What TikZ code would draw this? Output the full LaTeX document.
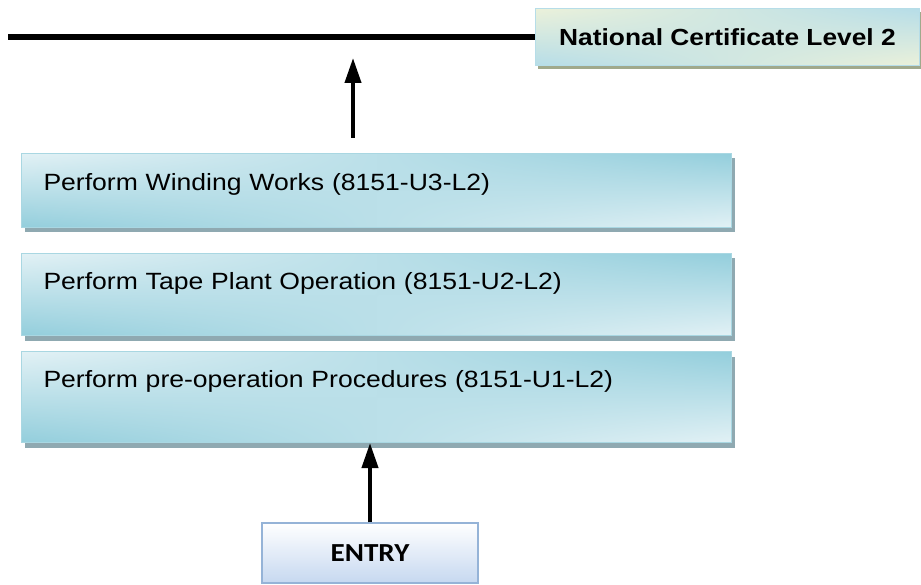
\documentclass[tikz,border=0pt]{standalone}
\usepackage{fontspec}
\setmainfont[FakeStretch=1.13]{Liberation Sans}
\newfontfamily\entryfont[FakeStretch=1.12]{Carlito}
\usepackage{tikz}
\usetikzlibrary{arrows.meta,shadows,shadings}

\definecolor{unitlight}{HTML}{E2F1F5}
\definecolor{unitdark}{HTML}{93CEDC}
\definecolor{unitborder}{HTML}{A9D7E2}
\definecolor{unitshadow}{HTML}{8FA9B1}
\definecolor{certcream}{HTML}{EBF1DA}
\definecolor{certblue}{HTML}{B6DDE8}
\definecolor{certshadow}{HTML}{A0A98C}
\definecolor{entryfill}{HTML}{C6D8F0}
\definecolor{entryborder}{HTML}{95B3D7}

\tikzset{
        unitbox/.style = {anchor = north west, inner xsep = 22pt, inner ysep = 0pt,
                text width = 666pt, align = left, minimum height = 10pt,
                font = {\fontsize{23.5}{28}\selectfont},
                draw = unitborder, line width = 1pt,
                shading = bilinear interpolation,
                upper left = unitlight, lower left = unitdark,
                upper right = unitdark, lower right = unitlight,
                drop shadow = {shadow xshift = 3pt, shadow yshift = -5pt,
                        fill = unitshadow, opacity = 1}},
        upflow/.style = {line width = 4pt, -{Triangle[length = 25pt, width = 16pt]}}
}

\begin{document}
\begin{tikzpicture}[x = 1pt, y = -1pt]
        \useasboundingbox (0, 0) rectangle (921, 585);

        % qualification at the top
        \node[draw = certblue, line width = 1pt, minimum width = 384pt, minimum height = 57pt,
                anchor = north west, inner sep = 0pt,
                shading = bilinear interpolation,
                upper left = certcream, lower left = certblue,
                upper right = certblue, lower right = certcream,
                drop shadow = {shadow xshift = 2pt, shadow yshift = -4pt,
                        fill = certshadow, opacity = 1},
                font = {\fontsize{23.3}{28}\selectfont\bfseries}]
                (nc) at (535, 8) {National Certificate Level 2};

        \coordinate (rulestart) at (8, 37);
        \draw[line width = 6.5pt] (rulestart) -- (nc.west);


        % the three units
        \node[unitbox, text height = 37pt, text depth = 37pt]
                (wind) at (21, 153) {Perform Winding Works (8151-U3-L2)};

        \node[unitbox, text height = 36pt, text depth = 46pt]
                (tape) at (21, 253) {Perform Tape Plant Operation (8151-U2-L2)};

        \node[unitbox, text height = 36pt, text depth = 55pt]
                (pre) at (21, 351) {Perform pre-operation Procedures (8151-U1-L2)};


        % way in
        \node[draw = entryborder, line width = 1.5pt, top color = white, bottom color = entryfill,
                minimum width = 216pt, minimum height = 60pt, inner sep = 0pt,
                font = {\entryfont\fontsize{26}{30}\selectfont\bfseries}]
                (entry) at (370, 553) {ENTRY};

        \draw[upflow] (entry.north) -- (entry.north |- pre.south);

        \coordinate (leave) at (353, 138);
        \coordinate (goal) at (353, 58);
        \draw[upflow] (leave) -- (goal);
\end{tikzpicture}
\end{document}
